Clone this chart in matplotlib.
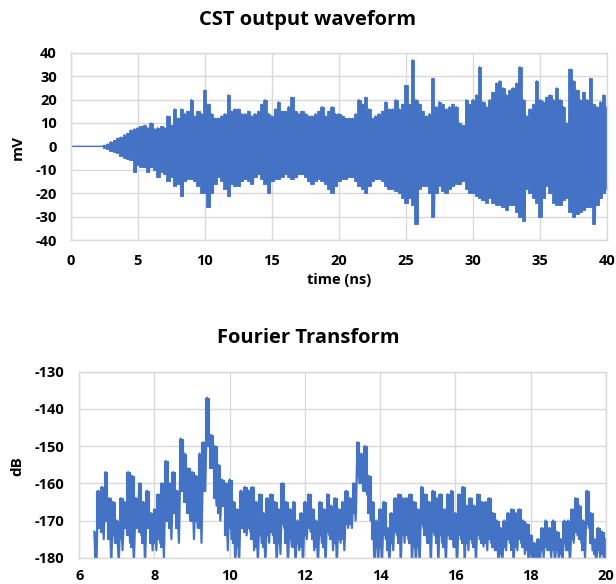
import numpy as np
import matplotlib.pyplot as plt

plt.rcParams['font.family'] = ['Open Sans', 'DejaVu Sans']
plt.rcParams['font.weight'] = 'bold'
plt.rcParams['axes.unicode_minus'] = False

BLUE = '#4472C4'
GRID = '#d9d9d9'

# waveform envelope (mV), sampled every 0.25 ns from 0 to 40 ns
wave_hi = [
    0, 0, 0, 0,  0, 0, 0, 0,  0, 0, 0.5, 1,  2, 2.5, 3.5, 4,
    5, 5.5, 7, 7.5,  8, 8.5, 9, 8,  10, 7.5, 8, 8.5,  8, 13, 9, 16,
    12, 16, 14, 15,  20, 13, 15, 14,  24, 18, 14, 12,  12, 13, 14, 22,
    15, 16, 16, 14,  14, 15, 13, 14,  15, 18, 20, 14,  13, 16, 19, 15,
    15, 17, 21, 15,  14, 15, 14, 13,  13, 14, 15, 17,  13, 15, 17, 14,
    14, 13, 12, 12,  12, 14, 20, 18,  21, 16, 12, 13,  14, 15, 19, 16,
    16, 20, 16, 18,  26, 18, 37, 20,  18, 15, 13, 14,  29, 17, 19, 18,
    16, 17, 18, 17,  10, 9, 20, 18,  20, 22, 34, 19,  17, 20, 23, 27,
    28, 25, 22, 24,  25, 27, 34, 20,  13, 16, 18, 28,  20, 19, 21, 22,
    20, 25, 20, 17,  10, 33, 28, 24,  20, 23, 20, 29,  18, 17, 19, 22,
    17,
]
wave_lo = [
    0, 0, 0, 0,  0, 0, 0, 0,  0, 0, -0.5, -1,  -2, -2.5, -3, -4,
    -5, -5.5, -6, -11,  -8, -9, -9, -11,  -9, -10, -13, -11,  -12, -15, -13, -17,
    -16, -21, -15, -14,  -14, -15, -17, -20,  -20, -26, -20, -16,  -13, -15, -18, -21,
    -16, -17, -17, -15,  -14, -15, -16, -13,  -12, -14, -16, -20,  -15, -14, -14, -13,
    -12, -13, -14, -13,  -12, -12, -13, -15,  -16, -15, -14, -15,  -16, -18, -20, -17,
    -15, -14, -14, -13,  -13, -15, -17, -18,  -20, -17, -15, -14,  -14, -15, -17, -18,
    -18, -19, -20, -22,  -24, -22, -25, -33,  -18, -17, -17, -20,  -30, -20, -17, -19,
    -20, -18, -17, -16,  -16, -15, -18, -20,  -20, -21, -22, -23,  -24, -22, -24, -25,
    -25, -26, -27, -25,  -25, -28, -30, -32,  -18, -20, -22, -24,  -30, -22, -17, -20,
    -24, -25, -25, -23,  -22, -28, -30, -29,  -28, -27, -26, -26,  -33, -25, -22, -20,
    -18,
]

# spectrum (dB), every 0.1 GHz from 6.4 to 20.0 GHz:
# peaks, bottom of the dense core, and the deepest dips
spec_hi = [
    -173, -162, -161, -157, -164, -165,
    -170, -164, -165, -157, -158, -164, -160, -165, -162, -168,
    -167, -163, -160, -154, -160, -157, -162, -148, -152, -156,
    -157, -158, -152, -149, -137, -147, -150, -155, -159, -160,
    -159, -165, -167, -162, -161, -162, -161, -165, -163, -168,
    -164, -163, -165, -167, -160, -165, -167, -165, -170, -168,
    -165, -163, -167, -170, -165, -167, -163, -166, -164, -167,
    -165, -162, -164, -160, -149, -152, -150, -158, -165, -170,
    -167, -165, -172, -168, -164, -163, -164, -164, -163, -165,
    -167, -161, -163, -165, -162, -164, -163, -167, -163, -162,
    -168, -163, -161, -166, -164, -166, -163, -165, -165, -164,
    -168, -170, -172, -170, -168, -167, -168, -167, -170, -171,
    -174, -176, -175, -172, -170, -172, -170, -173, -175, -170,
    -170, -167, -164, -166, -170, -162, -168, -175, -172, -173,
    -175,
]
spec_core = [
    -180, -172, -173, -170, -175, -174,
    -176, -175, -172, -174, -177, -172, -173, -176, -172, -176,
    -176, -175, -177, -170, -172, -168, -172, -162, -165, -168,
    -170, -170, -172, -162, -150, -156, -164, -168, -166, -174,
    -172, -176, -177, -172, -173, -172, -175, -177, -174, -177,
    -174, -173, -176, -176, -171, -176, -175, -177, -176, -177,
    -174, -172, -175, -177, -174, -177, -173, -175, -176, -175,
    -175, -171, -171, -168, -158, -160, -162, -168, -175, -177,
    -177, -174, -178, -176, -173, -176, -174, -174, -176, -177,
    -177, -171, -174, -176, -173, -176, -174, -177, -174, -175,
    -177, -174, -176, -176, -175, -177, -174, -176, -176, -175,
    -177, -178, -179, -177, -175, -178, -177, -175, -177, -178,
    -179, -180, -180, -178, -177, -178, -178, -178, -179, -176,
    -178, -175, -173, -175, -178, -171, -176, -179, -178, -179,
    -180,
]
spec_lo = [
    -185, -170, -175, -168, -182, -176,
    -182, -178, -172, -176, -182, -170, -174, -182, -172, -178,
    -178, -176, -180, -170, -175, -168, -176, -160, -165, -170,
    -175, -172, -176, -162, -150, -155, -166, -170, -165, -178,
    -175, -182, -182, -172, -174, -173, -178, -182, -176, -182,
    -176, -174, -182, -179, -172, -182, -177, -182, -178, -182,
    -175, -173, -178, -182, -176, -182, -174, -178, -182, -176,
    -178, -172, -172, -170, -160, -162, -163, -170, -182, -182,
    -182, -175, -182, -178, -174, -182, -176, -175, -182, -182,
    -182, -172, -176, -182, -174, -182, -176, -182, -175, -177,
    -182, -175, -182, -178, -176, -182, -175, -177, -178, -176,
    -178, -182, -182, -178, -176, -182, -178, -176, -179, -182,
    -182, -182, -182, -180, -178, -180, -182, -180, -182, -178,
    -182, -176, -174, -176, -180, -172, -178, -182, -180, -181,
    -182,
]

time_ticks = [0, 5, 10, 15, 20, 25, 30, 35, 40]
mv_ticks = [-40, -30, -20, -10, 0, 10, 20, 30, 40]
freq_ticks = [6, 8, 10, 12, 14, 16, 18, 20]
db_ticks = [-180, -170, -160, -150, -140, -130]


def zigzag(x0, step, hi, lo):
    # alternate between peak and trough samples to draw the dense oscillation
    n = len(hi)
    x = x0 + np.arange(n) * step
    xs = np.empty(2 * n)
    ys = np.empty(2 * n)
    xs[0::2] = x
    xs[1::2] = x + step / 2
    ys[0::2] = hi
    ys[1::2] = lo
    return xs, ys


def style(ax):
    ax.grid(True, color=GRID, lw=1.0)
    ax.set_axisbelow(True)
    for s in ax.spines.values():
        s.set_color(GRID)
        s.set_linewidth(1.0)
    ax.tick_params(length=0, labelsize=10.5, colors='black')
    for lab in ax.get_xticklabels() + ax.get_yticklabels():
        lab.set_fontweight('bold')


fig = plt.figure(figsize=(6.16, 5.84), dpi=100)

# time domain: solid band between the envelopes plus the spiky oscillation
ax1 = fig.add_axes([0.1148, 0.589, 0.8706, 0.3208])
t = np.arange(len(wave_hi)) * 0.25
ax1.fill_between(t, wave_lo, wave_hi, step='mid', color=BLUE, lw=0.6,
                 edgecolor=BLUE)
tx, ty = zigzag(0.0, 0.25, wave_hi, wave_lo)
ax1.plot(tx, ty, color=BLUE, lw=1.0)
ax1.set_xlim(0, 40)
ax1.set_ylim(-40, 40)
ax1.set_xticks(time_ticks)
ax1.set_yticks(mv_ticks)
ax1.tick_params(axis='x', pad=10)
ax1.tick_params(axis='y', pad=10)
style(ax1)

# frequency domain: dense core plus the individual dips
ax2 = fig.add_axes([0.1287, 0.045, 0.8546, 0.3185])
f = 6.4 + np.arange(len(spec_hi)) * 0.1
ax2.fill_between(f, spec_core, spec_hi, step='mid', color=BLUE, lw=0.8,
                 edgecolor=BLUE)
fx, fy = zigzag(6.4, 0.1, spec_hi, spec_lo)
ax2.plot(fx, fy, color=BLUE, lw=1.6)
ax2.set_xlim(6, 20)
ax2.set_ylim(-180, -130)
ax2.set_xticks(freq_ticks)
ax2.set_yticks(db_ticks)
ax2.tick_params(axis='x', pad=8)
ax2.tick_params(axis='y', pad=11)
style(ax2)

fig.text(0.5, 0.9658, 'CST output waveform', ha='center', va='center',
         fontsize=14.5, fontweight='bold')
fig.text(0.5, 0.4212, 'Fourier Transform', ha='center', va='center',
         fontsize=14.5, fontweight='bold')
fig.text(0.55, 0.5205, 'time (ns)', ha='center', va='center',
         fontsize=10.5, fontweight='bold')
fig.text(0.029, 0.7466, 'mV', ha='center', va='center', rotation=90,
         fontsize=11, fontweight='bold')
fig.text(0.029, 0.202, 'dB', ha='center', va='center', rotation=90,
         fontsize=11, fontweight='bold')

fig.savefig('out.png', dpi=100)
